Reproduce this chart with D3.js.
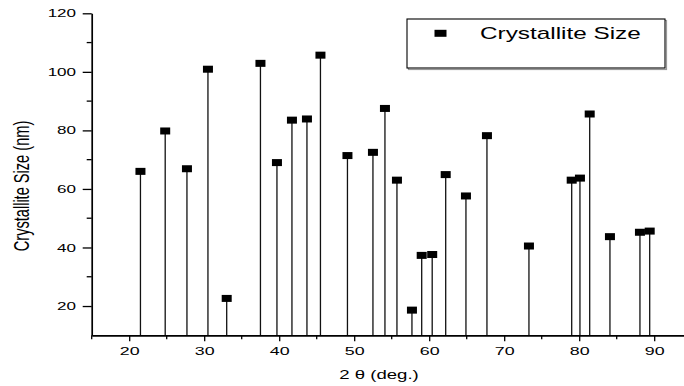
<!DOCTYPE html>
<html>
<head>
<meta charset="utf-8">
<script src="https://cdn.jsdelivr.net/npm/d3@7"></script>
<style>
  body { margin: 0; background: #fff; }
  svg { display: block; font-family: "Liberation Sans", Arial, sans-serif; }
</style>
</head>
<body>
<svg id="chart" width="684" height="386"></svg>
<script>
// 2θ positions (deg.) and crystallite sizes (nm)
const twoTheta = [21.5, 24.8, 27.7, 30.5, 33.0, 37.5, 39.7, 41.7, 43.7, 45.5,
  49.1, 52.5, 54.1, 55.7, 57.7, 59.0, 60.4, 62.2, 64.9, 67.7,
  73.3, 79.0, 80.1, 81.4, 84.1, 88.1, 89.4]
const sizeNm = [66.0, 79.8, 66.9, 100.9, 22.6, 102.9, 69.0, 83.5, 83.9, 105.7,
  71.4, 72.5, 87.5, 63.0, 18.6, 37.3, 37.6, 64.9, 57.6, 78.2,
  40.5, 63.0, 63.7, 85.6, 43.7, 45.2, 45.6]
const xMajorTicks = [20, 30, 40, 50, 60, 70, 80, 90]
const xMinorTicks = [15, 25, 35, 45, 55, 65, 75, 85, 95]
const yMajorTicks = [20, 40, 60, 80, 100, 120]
const yMinorTicks = [30, 50, 70, 90, 110]
const seriesName = 'Crystallite Size'

// the original picture is stretched sideways, so text gets squashed the same way
const stretch = 1.55

const svg = d3.select('#chart')
const plotLeft = 91.7, plotTop = 13.3, plotBottom = 335.3

const x = d3.scaleLinear().domain([15, 95]).range([plotLeft, plotLeft + 80 * 7.5])
const y = d3.scaleLinear().domain([10, 120]).range([plotBottom, plotTop])

const points = d3.zip(twoTheta, sizeNm)

// stems
svg.append('g')
  .attr('stroke', '#111')
  .attr('stroke-width', 1.3)
  .selectAll('line')
  .data(points)
  .join('line')
  .attr('x1', d => x(d[0]))
  .attr('x2', d => x(d[0]))
  .attr('y1', y(10))
  .attr('y2', d => y(d[1]))

// markers
svg.append('g')
  .selectAll('rect')
  .data(points)
  .join('rect')
  .attr('x', d => x(d[0]) - 5)
  .attr('y', d => y(d[1]) - 3.5)
  .attr('width', 10)
  .attr('height', 7)
  .attr('fill', '#000')

// axes
const xAxis = svg.append('g')
  .attr('transform', `translate(0,${plotBottom})`)
  .call(d3.axisBottom(x).tickValues(xMajorTicks).tickSize(6).tickSizeOuter(0))
xAxis.selectAll('.tick text')
  .attr('y', 20)
  .attr('dy', null)
  .attr('font-size', 11.5)
  .attr('transform', `scale(${stretch},1)`)
xAxis.selectAll('.minor')
  .data(xMinorTicks)
  .join('line')
  .attr('class', 'minor')
  .attr('x1', d => x(d))
  .attr('x2', d => x(d))
  .attr('y1', 0)
  .attr('y2', 4)
  .attr('stroke', '#000')
  .attr('stroke-width', 1.3)

const yAxis = svg.append('g')
  .attr('transform', `translate(${plotLeft},0)`)
  .call(d3.axisLeft(y).tickValues(yMajorTicks).tickSize(9).tickSizeOuter(0))
yAxis.selectAll('.tick text')
  .attr('x', -10.1)
  .attr('font-size', 11)
  .attr('transform', `scale(${stretch},1)`)
yAxis.selectAll('.minor')
  .data(yMinorTicks)
  .join('line')
  .attr('class', 'minor')
  .attr('y1', d => y(d))
  .attr('y2', d => y(d))
  .attr('x1', 0)
  .attr('x2', -5)
  .attr('stroke', '#000')
  .attr('stroke-width', 1.3)

svg.selectAll('.domain').attr('stroke', '#000').attr('stroke-width', 1.7)
svg.selectAll('.tick line').attr('stroke', '#000').attr('stroke-width', 1.3)
svg.selectAll('.tick text').attr('fill', '#000')
svg.selectAll('g').attr('font-family', null)

// axis titles
svg.append('text')
  .attr('transform', `translate(379,379) scale(${stretch},1)`)
  .attr('text-anchor', 'middle')
  .attr('font-size', 12)
  .text('2 θ (deg.)')

svg.append('text')
  .attr('transform', `translate(28.5,186) scale(1.45,1) rotate(-90)`)
  .attr('text-anchor', 'middle')
  .attr('font-size', 14.6)
  .text('Crystallite Size (nm)')

// legend
const legend = svg.append('g').attr('transform', 'translate(407,19)')
legend.append('rect')
  .attr('x', 1.5).attr('y', 1.5)
  .attr('width', 258).attr('height', 49)
  .attr('fill', 'none').attr('stroke', '#999').attr('stroke-width', 1.2)
legend.append('rect')
  .attr('width', 258).attr('height', 49)
  .attr('fill', '#fff').attr('stroke', '#000').attr('stroke-width', 1.1)
legend.append('rect')
  .attr('x', 27.5).attr('y', 10.8)
  .attr('width', 12).attr('height', 7)
  .attr('fill', '#000')
legend.append('text')
  .attr('transform', `translate(73,20) scale(1.52,1)`)
  .attr('font-size', 16)
  .text(seriesName)
</script>
</body>
</html>
